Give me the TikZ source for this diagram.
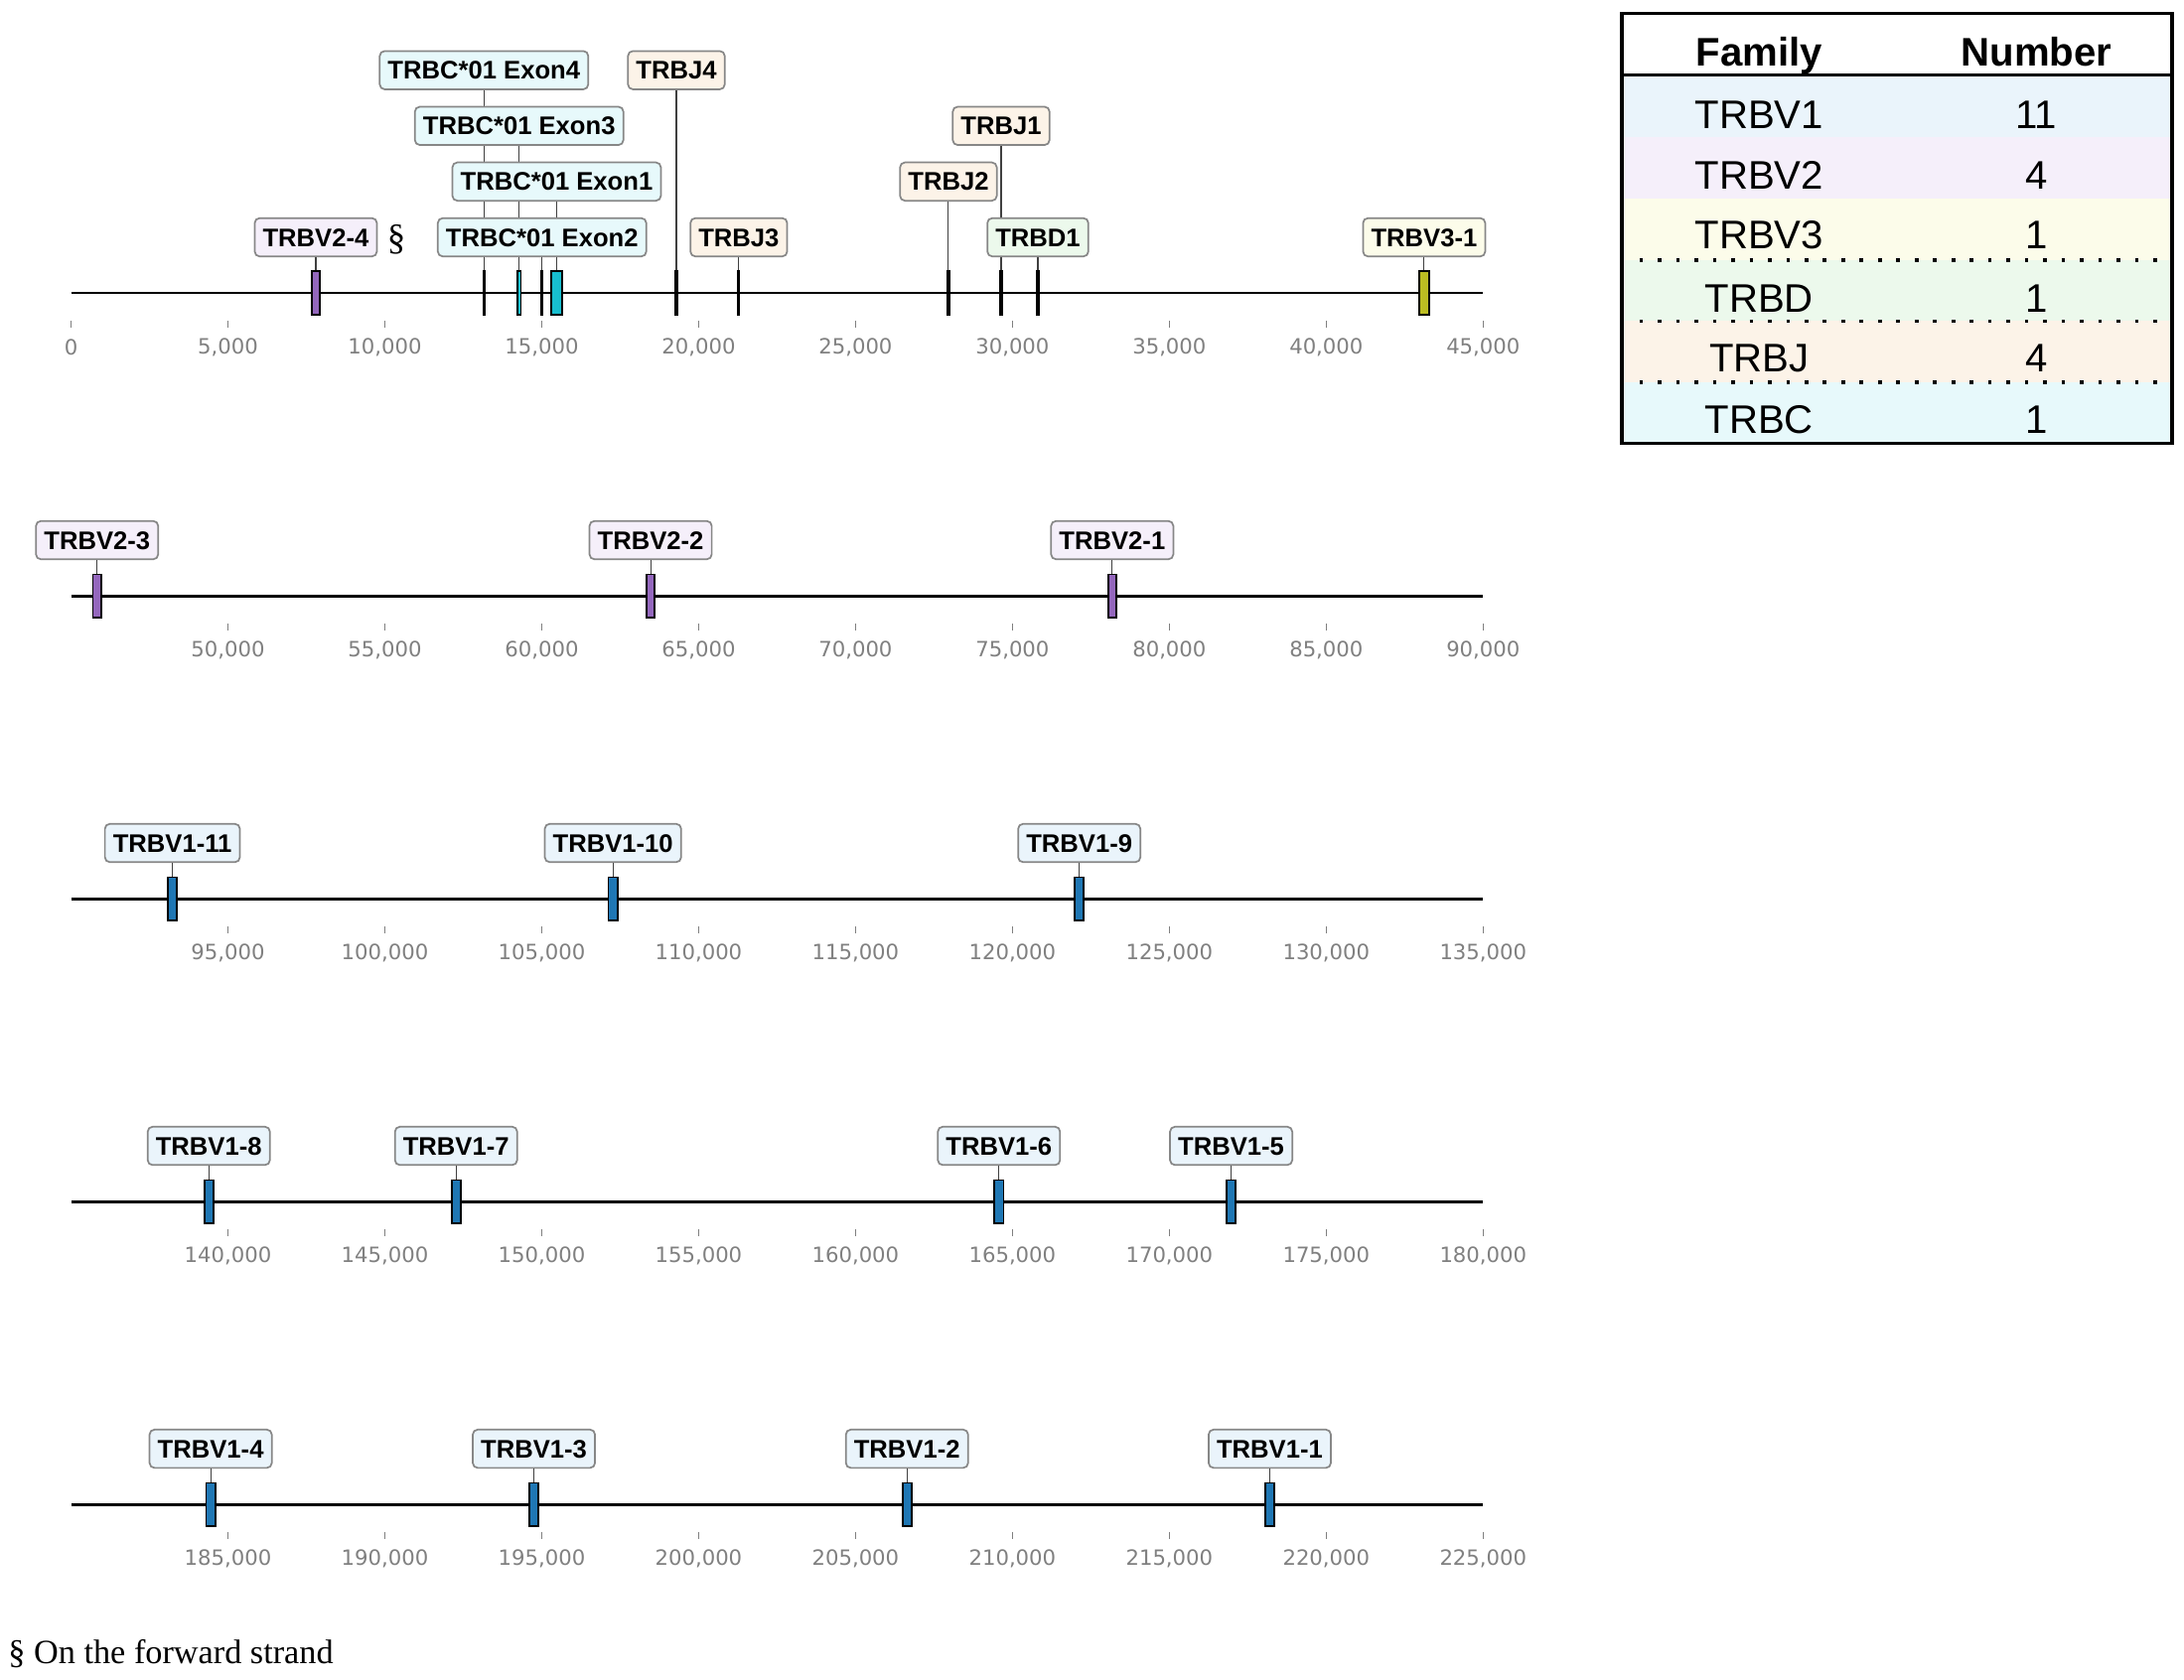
\documentclass[tikz,border=0pt]{standalone}
\usepackage{fontspec}
\setmainfont{Liberation Serif}
\newfontfamily\labfont{Liberation Sans}
\newfontfamily\tickfont{DejaVu Sans}
\usetikzlibrary{backgrounds}

\definecolor{vonefill}{RGB}{234,244,251}
\definecolor{vtwofill}{RGB}{245,239,250}
\definecolor{vthreefill}{RGB}{252,252,234}
\definecolor{dfill}{RGB}{236,249,236}
\definecolor{jfill}{RGB}{252,243,232}
\definecolor{cfill}{RGB}{231,249,251}
\definecolor{vonecol}{RGB}{31,119,180}
\definecolor{vtwocol}{RGB}{148,103,189}
\definecolor{vthreecol}{RGB}{188,189,34}
\definecolor{ccol}{RGB}{23,190,207}
\definecolor{tickgray}{RGB}{128,128,128}
\definecolor{boxgray}{RGB}{135,135,135}

\tikzset{
  axisline/.style={line width=1.15pt},
  tickmark/.style={draw=tickgray, line width=0.5pt},
  ticklab/.style={text=tickgray, inner sep=0pt, font=\tickfont\fontsize{8.6}{10}\selectfont},
  feat/.style={draw=black, line width=0.7pt, minimum height=0.62cm, inner sep=0pt},
  thinfeat/.style={feat, fill=black, minimum width=0.02cm},
  vone/.style={feat, fill=vonecol, minimum width=0.13cm},
  vtwo/.style={feat, fill=vtwocol, minimum width=0.12cm},
  vthree/.style={feat, fill=vthreecol, minimum width=0.14cm},
  cbox/.style={feat, fill=ccol},
  genelab/.style={draw=boxgray, line width=0.7pt, rounded corners=2pt, inner xsep=3.3pt, inner ysep=0pt,
    minimum height=0.55cm, text height=7.4pt, text depth=0pt,
    font=\labfont\bfseries\fontsize{10.4}{12}\selectfont},
  leader/.style={draw=black!75, line width=0.45pt},
  tabtxt/.style={anchor=base, inner sep=0pt, font=\labfont\fontsize{16.3}{19}\selectfont},
  tabhead/.style={tabtxt, font=\labfont\bfseries\fontsize{16.3}{19}\selectfont},
  tabdots/.style={line width=1.5pt, dash pattern=on 1.5pt off 6pt},
}

\begin{document}
\begin{tikzpicture}[x=0.02cm, y=-0.02cm]
    \useasboundingbox (0,0) rectangle (1568,1206);

    % axes and ticks of the five tracks
    \foreach \r/\ry in {0/210.4, 1/427.9, 2/645.4, 3/862.9, 4/1080.4} {
        \begin{scope}[shift={(51,\ry)}, x=0.450667cm]
            \draw[axisline] (0,0) -- (45,0);
            \foreach \t in {5,10,...,45} {
                \pgfmathtruncatemacro\thou{45*\r+\t}
                \draw[tickmark] (\t,20) -- (\t,25);
                \node[ticklab] at (\t,39.2) (tk\r-\t) {\thou,000};
            }
        \end{scope}
    }

    % track 1
    \begin{scope}[shift={(51,210.4)}, x=0.450667cm]
        \draw[tickmark] (0,20) -- (0,25);
        \node[ticklab] at (0,39.2) (tk0-0) {0};
        \node[vtwo]                       at (7.80, 0)   (v24) {};
        \node[thinfeat]                   at (13.16, 0)  (c4)  {};
        \node[cbox, minimum width=0.05cm] at (14.28, 0)  (c3)  {};
        \node[thinfeat]                   at (15.01, 0)  (c2)  {};
        \node[cbox, minimum width=0.16cm] at (15.475, 0) (c1)  {};
        \node[thinfeat]                   at (19.29, 0)  (j4)  {};
        \node[thinfeat]                   at (21.28, 0)  (j3)  {};
        \node[thinfeat]                   at (27.96, 0)  (j2)  {};
        \node[thinfeat]                   at (29.64, 0)  (j1)  {};
        \node[thinfeat]                   at (30.81, 0)  (d1)  {};
        \node[vthree]                     at (43.12, 0)  (v31) {};
        \node[genelab, fill=vtwofill]   at (7.80, -40)    (v24l) {TRBV2-4};
        \node[genelab, fill=cfill]      at (13.16, -160)  (c4l)  {TRBC*01 Exon4};
        \node[genelab, fill=cfill]      at (14.28, -120)  (c3l)  {TRBC*01 Exon3};
        \node[genelab, fill=cfill]      at (15.475, -80)  (c1l)  {TRBC*01 Exon1};
        \node[genelab, fill=cfill]      at (15.01, -40)   (c2l)  {TRBC*01 Exon2};
        \node[genelab, fill=jfill]      at (19.29, -160)  (j4l)  {TRBJ4};
        \node[genelab, fill=jfill]      at (21.28, -40)   (j3l)  {TRBJ3};
        \node[genelab, fill=jfill]      at (29.64, -120)  (j1l)  {TRBJ1};
        \node[genelab, fill=jfill]      at (27.96, -80)   (j2l)  {TRBJ2};
        \node[genelab, fill=dfill]      at (30.81, -40)   (d1l)  {TRBD1};
        \node[genelab, fill=vthreefill] at (43.12, -40)   (v31l) {TRBV3-1};
        \begin{pgfonlayer}{background}
            \draw[leader] (v24l) edge (v24) (c4l) edge (c4) (c3l) edge (c3) (c2l) edge (c2)
                (c1l) edge (c1) (j4l) edge (j4) (j3l) edge (j3) (j2l) edge (j2)
                (j1l) edge (j1) (d1l) edge (d1) (v31l) edge (v31);
        \end{pgfonlayer}
    \end{scope}
    \node[font=\fontsize{15}{17}\selectfont, inner sep=0pt] at (284.5, 171.7) (fwd) {§};

    % track 2
    \begin{scope}[shift={(51,427.9)}, x=0.450667cm]
        \node[vtwo] at (0.83, 0)  (v23) {};
        \node[vtwo] at (18.47, 0) (v22) {};
        \node[vtwo] at (33.18, 0) (v21) {};
        \node[genelab, fill=vtwofill] at (0.83, -40)  (v23l) {TRBV2-3};
        \node[genelab, fill=vtwofill] at (18.47, -40) (v22l) {TRBV2-2};
        \node[genelab, fill=vtwofill] at (33.18, -40) (v21l) {TRBV2-1};
        \draw[leader] (v23l) edge (v23) (v22l) edge (v22) (v21l) edge (v21);
    \end{scope}

    % track 3
    \begin{scope}[shift={(51,645.4)}, x=0.450667cm]
        \node[vone] at (3.23, 0)  (v111) {};
        \node[vone] at (17.27, 0) (v110) {};
        \node[vone] at (32.13, 0) (v19)  {};
        \node[genelab, fill=vonefill] at (3.23, -40)  (v111l) {TRBV1-11};
        \node[genelab, fill=vonefill] at (17.27, -40) (v110l) {TRBV1-10};
        \node[genelab, fill=vonefill] at (32.13, -40) (v19l)  {TRBV1-9};
        \draw[leader] (v111l) edge (v111) (v110l) edge (v110) (v19l) edge (v19);
    \end{scope}

    % track 4
    \begin{scope}[shift={(51,862.9)}, x=0.450667cm]
        \node[vone] at (4.39, 0)  (v18) {};
        \node[vone] at (12.27, 0) (v17) {};
        \node[vone] at (29.57, 0) (v16) {};
        \node[vone] at (36.97, 0) (v15) {};
        \node[genelab, fill=vonefill] at (4.39, -40)  (v18l) {TRBV1-8};
        \node[genelab, fill=vonefill] at (12.27, -40) (v17l) {TRBV1-7};
        \node[genelab, fill=vonefill] at (29.57, -40) (v16l) {TRBV1-6};
        \node[genelab, fill=vonefill] at (36.97, -40) (v15l) {TRBV1-5};
        \draw[leader] (v18l) edge (v18) (v17l) edge (v17) (v16l) edge (v16) (v15l) edge (v15);
    \end{scope}

    % track 5
    \begin{scope}[shift={(51,1080.4)}, x=0.450667cm]
        \node[vone] at (4.45, 0)  (v14) {};
        \node[vone] at (14.75, 0) (v13) {};
        \node[vone] at (26.64, 0) (v12) {};
        \node[vone] at (38.20, 0) (v11) {};
        \node[genelab, fill=vonefill] at (4.45, -40)  (v14l) {TRBV1-4};
        \node[genelab, fill=vonefill] at (14.75, -40) (v13l) {TRBV1-3};
        \node[genelab, fill=vonefill] at (26.64, -40) (v12l) {TRBV1-2};
        \node[genelab, fill=vonefill] at (38.20, -40) (v11l) {TRBV1-1};
        \draw[leader] (v14l) edge (v14) (v13l) edge (v13) (v12l) edge (v12) (v11l) edge (v11);
    \end{scope}

    % family table
    \fill[vonefill]   (1164.4,53.5)  rectangle (1559.3,98.6);
    \fill[vtwofill]   (1164.4,98.6)  rectangle (1559.3,142.6);
    \fill[vthreefill] (1164.4,142.6) rectangle (1559.3,186.6);
    \fill[dfill]      (1164.4,186.6) rectangle (1559.3,230.6);
    \fill[jfill]      (1164.4,230.6) rectangle (1559.3,274.6);
    \fill[cfill]      (1164.4,274.6) rectangle (1559.3,318.5);
    \foreach \dy in {186.6, 230.6, 274.6}
        \draw[tabdots] (1177,\dy) -- (1559.3,\dy);
    \draw[line width=1.2pt] (1164.4,53.5) -- (1559.3,53.5);
    \draw[line width=1.4pt] (1164.4,9.5) rectangle (1559.3,318.5);
    \node[tabhead] at (1263, 47.5) (famh) {Family};
    \node[tabhead] at (1462, 47.5) (numh) {Number};
    \foreach \fam/\num/\by [count=\i] in {TRBV1/11/92.4, TRBV2/4/136, TRBV3/1/178.6,
                                          TRBD/1/224.2, TRBJ/4/266.8, TRBC/1/311.2} {
        \node[tabtxt] at (1263, \by) (fam\i) {\fam};
        \node[tabtxt] at (1462, \by) (num\i) {\num};
    }

    % footnote
    \node[anchor=base west, inner sep=0pt, font=\fontsize{13.9}{16}\selectfont] at (5.7, 1195) (note) {§ On the forward strand};
\end{tikzpicture}
\end{document}
